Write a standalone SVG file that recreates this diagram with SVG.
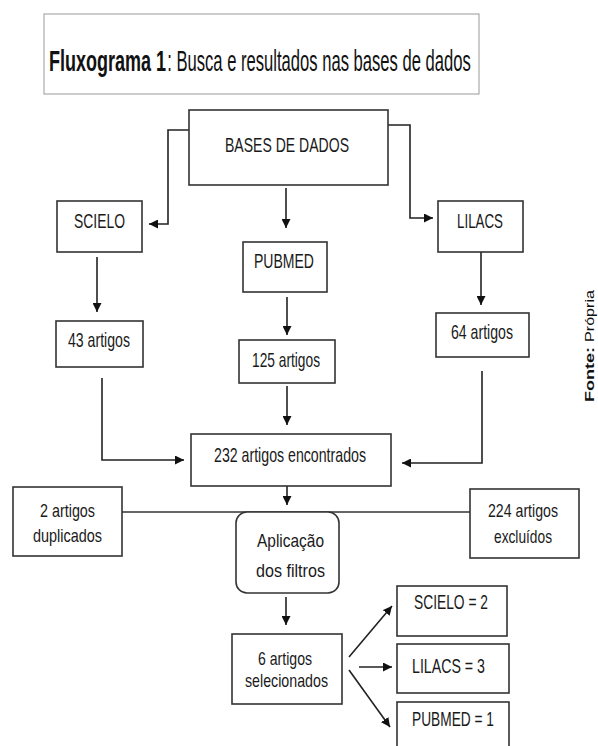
<svg xmlns="http://www.w3.org/2000/svg" width="598" height="746" viewBox="0 0 598 746">
<style>
.box{fill:#fff;stroke:#333;stroke-width:1.6}
.t{font-family:"Liberation Sans",Arial,sans-serif;font-size:21px;fill:#1a1a1a}
.t2{font-family:"Liberation Sans",Arial,sans-serif;font-size:19px;fill:#1a1a1a}
.c{stroke:#222;stroke-width:1.6;fill:none}
</style>
<defs>
<marker id="ah" viewBox="0 0 10 10" refX="10" refY="5" markerWidth="9" markerHeight="9" markerUnits="userSpaceOnUse" orient="auto">
<path d="M0,0 L10,5 L0,10 Z" fill="#111"/>
</marker>
</defs>
<rect width="598" height="746" fill="#fff"/>
<g id="title">
<rect x="44" y="14" width="435" height="80" fill="#fff" stroke="#999" stroke-width="1"/>
<g transform="translate(49,71) scale(0.6,1)">
<text x="0" y="0" font-family="Liberation Sans,Arial,sans-serif" font-size="29" font-weight="bold" fill="#111" textLength="195" lengthAdjust="spacingAndGlyphs">Fluxograma 1</text>
<text x="197" y="0" font-family="Liberation Sans,Arial,sans-serif" font-size="29" fill="#111" textLength="506" lengthAdjust="spacingAndGlyphs">: Busca e resultados nas bases de dados</text>
</g>
</g>
<g id="connectors">
<path class="c" d="M189,130 H168 V224 H149" marker-end="url(#ah)"/>
<path class="c" d="M388,125 H410 V218 H433" marker-end="url(#ah)"/>
<path class="c" d="M286,188 V228" marker-end="url(#ah)"/>
<path class="c" d="M97,257 V312" marker-end="url(#ah)"/>
<path class="c" d="M287,297 V335" marker-end="url(#ah)"/>
<path class="c" d="M481,252 V305" marker-end="url(#ah)"/>
<path class="c" d="M287,386 V425" marker-end="url(#ah)"/>
<path class="c" d="M102,378 V460 H184" marker-end="url(#ah)"/>
<path class="c" d="M482,371 V463 H402" marker-end="url(#ah)"/>
<path class="c" d="M287,486 V505" marker-end="url(#ah)"/>
<path d="M122,512 H470" stroke="#666" stroke-width="2" fill="none"/>
<path class="c" d="M286,597 V625" marker-end="url(#ah)"/>
<path class="c" d="M349,657 L392,606" marker-end="url(#ah)"/>
<path class="c" d="M359,667 H392" marker-end="url(#ah)"/>
<path class="c" d="M349,670 L390,727" marker-end="url(#ah)"/>
</g>
<g id="bases">
<rect class="box" x="189" y="110" width="199" height="75"/>
<text class="t" x="225" y="152" textLength="124" lengthAdjust="spacingAndGlyphs">BASES DE DADOS</text>
</g>
<g id="scielo">
<rect class="box" x="57" y="201" width="85" height="51"/>
<text class="t" x="74" y="228" textLength="51" lengthAdjust="spacingAndGlyphs">SCIELO</text>
</g>
<g id="lilacs">
<rect class="box" x="438" y="201" width="85" height="51"/>
<text class="t" x="457" y="228" textLength="46" lengthAdjust="spacingAndGlyphs">LILACS</text>
</g>
<g id="pubmed">
<rect class="box" x="243" y="242" width="84" height="50"/>
<text class="t" x="254" y="268" textLength="60" lengthAdjust="spacingAndGlyphs">PUBMED</text>
</g>
<g id="a43">
<rect class="box" x="56" y="321" width="87" height="46"/>
<text class="t" x="68" y="347" textLength="62" lengthAdjust="spacingAndGlyphs">43 artigos</text>
</g>
<g id="a125">
<rect class="box" x="239" y="340" width="96" height="43"/>
<text class="t" x="252" y="367" textLength="68" lengthAdjust="spacingAndGlyphs">125 artigos</text>
</g>
<g id="a64">
<rect class="box" x="436" y="313" width="93" height="44"/>
<text class="t" x="451" y="339" textLength="62" lengthAdjust="spacingAndGlyphs">64 artigos</text>
</g>
<g id="a232">
<rect class="box" x="191" y="434" width="200" height="52"/>
<text class="t" x="214" y="462" textLength="152" lengthAdjust="spacingAndGlyphs">232 artigos encontrados</text>
</g>
<g id="dup">
<rect class="box" x="13" y="487" width="109" height="69"/>
<text class="t2" x="40" y="517" textLength="55" lengthAdjust="spacingAndGlyphs">2 artigos</text>
<text class="t2" x="33" y="542" textLength="69" lengthAdjust="spacingAndGlyphs">duplicados</text>
</g>
<g id="exc">
<rect class="box" x="470" y="489" width="109" height="69"/>
<text class="t2" x="488" y="517" textLength="70" lengthAdjust="spacingAndGlyphs">224 artigos</text>
<text class="t2" x="494" y="543" textLength="58" lengthAdjust="spacingAndGlyphs">excluídos</text>
</g>
<g id="filtros">
<rect class="box" x="236" y="512" width="103" height="81" rx="11"/>
<text class="t2" x="257" y="547" textLength="67" lengthAdjust="spacingAndGlyphs">Aplicação</text>
<text class="t2" x="256" y="577" textLength="69" lengthAdjust="spacingAndGlyphs">dos filtros</text>
</g>
<g id="sel">
<rect class="box" x="232" y="634" width="110" height="70"/>
<text class="t2" x="258" y="665" textLength="54" lengthAdjust="spacingAndGlyphs">6 artigos</text>
<text class="t2" x="245" y="687" textLength="83" lengthAdjust="spacingAndGlyphs">selecionados</text>
</g>
<g id="s2">
<rect class="box" x="397" y="586" width="110" height="50"/>
<text class="t" x="414" y="609" textLength="74" lengthAdjust="spacingAndGlyphs">SCIELO = 2</text>
</g>
<g id="l3">
<rect class="box" x="397" y="644" width="112" height="49"/>
<text class="t" x="412" y="673" textLength="73" lengthAdjust="spacingAndGlyphs">LILACS = 3</text>
</g>
<g id="p1">
<rect class="box" x="397" y="702" width="112" height="60"/>
<text class="t" x="412" y="726" textLength="82" lengthAdjust="spacingAndGlyphs">PUBMED = 1</text>
</g>
<g id="fonte">
<text transform="translate(594,402) rotate(-90)" font-family="Liberation Sans,Arial,sans-serif" font-size="13" font-weight="bold" fill="#111" textLength="55" lengthAdjust="spacingAndGlyphs">Fonte:</text>
<text transform="translate(594,342) rotate(-90)" font-family="Liberation Sans,Arial,sans-serif" font-size="13" fill="#111" textLength="52" lengthAdjust="spacingAndGlyphs">Própria</text>
</g>
</svg>
